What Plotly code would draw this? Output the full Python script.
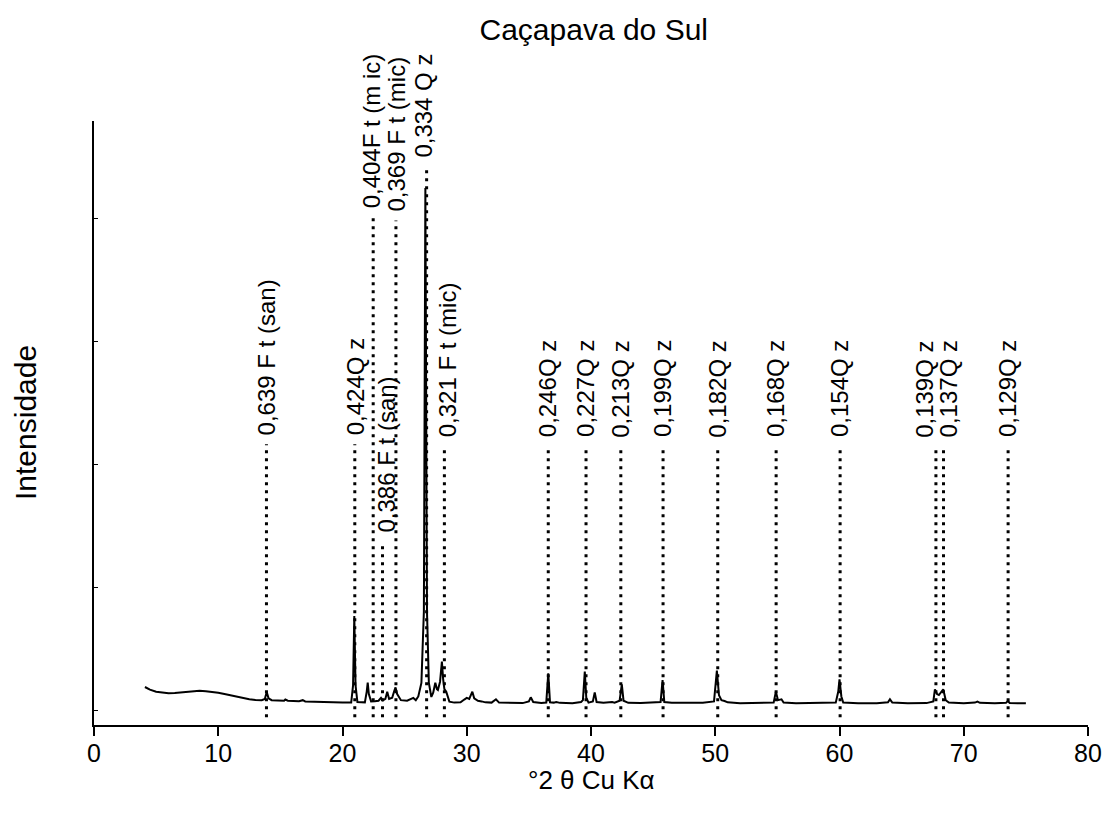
import plotly.graph_objects as go

# ---- data ----
two_theta = [4.1, 4.5, 5.0, 5.5, 6.0, 6.5, 7.0, 7.5, 8.0, 8.5, 9.0, 9.5, 10.0, 10.5, 11.0, 11.5, 12.0, 12.5,
             13.0, 13.5, 13.75, 13.9, 14.05, 14.3, 14.8, 15.3, 15.4, 15.6, 16.5, 16.8, 17.0, 18.0, 19.0, 20.0,
             20.7, 20.85, 20.95, 21.05, 21.2, 21.8, 21.95, 22.03, 22.12, 22.3, 22.6, 22.9, 23.1, 23.25, 23.45,
             23.6, 23.75, 24.0, 24.15, 24.27, 24.4, 24.7, 25.2, 25.5, 25.7, 25.9, 26.1, 26.35, 26.55, 26.67,
             26.8, 26.95, 27.15, 27.3, 27.47, 27.6, 27.68, 27.85, 28.0, 28.1, 28.2, 28.35, 28.6, 29.0, 29.5,
             29.8, 30.0, 30.2, 30.45, 30.6, 30.9, 31.2, 31.5, 32.0, 32.35, 32.6, 33.5, 34.5, 35.0, 35.15, 35.35,
             36.0, 36.4, 36.56, 36.7, 37.0, 37.2, 37.5, 38.5, 39.2, 39.35, 39.5, 39.62, 39.8, 40.15, 40.3, 40.45,
             41.0, 41.7, 41.9, 42.3, 42.48, 42.62, 43.0, 44.0, 45.0, 45.6, 45.76, 45.9, 46.5, 48.0, 49.0, 49.9,
             50.13, 50.3, 50.5, 50.75, 51.0, 52.0, 53.0, 54.7, 54.88, 55.05, 55.33, 55.5, 56.5, 58.0, 59.7, 59.9,
             60.0, 60.15, 60.3, 61.5, 63.0, 63.9, 64.06, 64.25, 65.5, 67.0, 67.55, 67.68, 67.85, 68.0, 68.2,
             68.35, 68.55, 68.8, 70.0, 70.9, 71.1, 71.3, 72.5, 73.4, 73.55, 73.7, 74.5, 75.0]
intensity = [187, 165, 148, 140, 137, 138, 142, 150, 155, 156, 153, 148, 140, 130, 118, 107, 97, 88,
             82, 80, 90, 146, 95, 80, 78, 75, 85, 76, 72, 80, 70, 65, 62, 60,
             60, 200, 764, 200, 65, 62, 150, 222, 130, 70, 72, 75, 98, 78, 90,
             149, 90, 100, 150, 184, 130, 80, 75, 85, 98, 80, 110, 220, 800, 4244,
             800, 220, 106, 140, 222, 170, 163, 230, 393, 250, 170, 149, 68, 60, 62,
             85, 98, 90, 149, 95, 75, 70, 62, 60, 87, 60, 56, 56, 70, 103, 65,
             56, 60, 298, 62, 60, 65, 58, 55, 65, 80, 312, 100, 60, 70, 143, 65,
             58, 65, 60, 75, 209, 75, 58, 56, 58, 65, 244, 65, 58, 56, 58, 70,
             320, 120, 80, 73, 62, 55, 56, 60, 149, 80, 87, 60, 55, 56, 60, 150,
             249, 110, 60, 55, 55, 62, 87, 60, 55, 56, 70, 168, 130, 122, 150,
             168, 80, 60, 55, 60, 68, 58, 55, 58, 73, 57, 55, 54]

peak_labels = ["0,639 F t (san)", "0,424Q z", "0,404F t (m ic)", "0,386 F t (san)", "0,369 F t (mic)",
               "0,334 Q z", "0,321 F t (mic)", "0,246Q z", "0,227Q z", "0,213Q z", "0,199Q z", "0,182Q z",
               "0,168Q z", "0,154Q z", "0,139Q z", "0,137Q z", "0,129Q z"]
peak_pos = [13.88, 20.99, 22.47, 23.22, 24.3, 26.77, 28.2, 36.56, 39.6, 42.4, 45.8, 50.2, 54.9, 60.05,
            67.76, 68.37, 73.57]
label_base = [2220, 2220, 4060, 1423, 4040, 4472, 2200, 2200, 2200, 2200, 2200, 2200, 2200, 2200,
              2200, 2200, 2200]
label_xshift = [0, 1, -2, 4, 1, -3, 4, 0, 0, 0, 0, 0, 0, 0, -11, 5, 0]

x_ticks = [0, 10, 20, 30, 40, 50, 60, 70, 80]
y_ticks = [0, 1000, 2000, 3000, 4000]

FONT = "Liberation Sans, Arial, sans-serif"

fig = go.Figure()

# dotted reference lines
for p, b in zip(peak_pos, label_base):
    fig.add_trace(go.Scatter(x=[p, p], y=[-60, b - 60], mode="lines",
                             line=dict(color="black", width=3, dash="3px,5px"),
                             hoverinfo="skip", showlegend=False))

fig.add_trace(go.Scatter(x=two_theta, y=intensity, mode="lines",
                         line=dict(color="black", width=2), showlegend=False))

annotations = []
for t, p, b, s in zip(peak_labels, peak_pos, label_base, label_xshift):
    annotations.append(dict(x=p, y=b, xref="x", yref="y", text=t, textangle=-90,
                            showarrow=False, xanchor="center", yanchor="bottom", xshift=s,
                            font=dict(family=FONT, size=24, color="black")))

annotations.append(dict(x=0.5, y=0, xref="paper", yref="paper", text="°2 θ Cu Kα",
                        showarrow=False, xanchor="center", yanchor="middle", yshift=-55,
                        font=dict(family=FONT, size=26, color="black")))
annotations.append(dict(x=0, y=0.5, xref="paper", yref="paper", text="Intensidade",
                        showarrow=False, xanchor="center", yanchor="middle", xshift=-69,
                        textangle=-90, font=dict(family=FONT, size=30, color="black")))

fig.update_layout(
    width=1114, height=819,
    margin=dict(l=94, r=20, t=121, b=94),
    paper_bgcolor="white", plot_bgcolor="white",
    font=dict(family=FONT, size=24, color="black"),
    title=dict(text="Caçapava do Sul", x=0.533, xanchor="center", y=1 - 29 / 819,
               yref="container", yanchor="middle",
               font=dict(family=FONT, size=30, color="black")),
    annotations=annotations,
    xaxis=dict(range=[0, 80], tickvals=x_ticks, ticks="outside", ticklen=9, tickwidth=2,
               tickcolor="black", showline=True, linecolor="black", linewidth=2,
               showgrid=False, zeroline=False, tickfont=dict(family=FONT, size=25),
               ticklabelstandoff=-4),
    yaxis=dict(range=[-122, 4789], tickvals=y_ticks, ticks="inside", ticklen=4, tickwidth=1,
               tickcolor="black", showline=True, linecolor="black", linewidth=2,
               showgrid=False, zeroline=False, showticklabels=False),
)

fig.write_html("out.html", config={"displayModeBar": False},
               post_script="document.body.style.margin='0';")
